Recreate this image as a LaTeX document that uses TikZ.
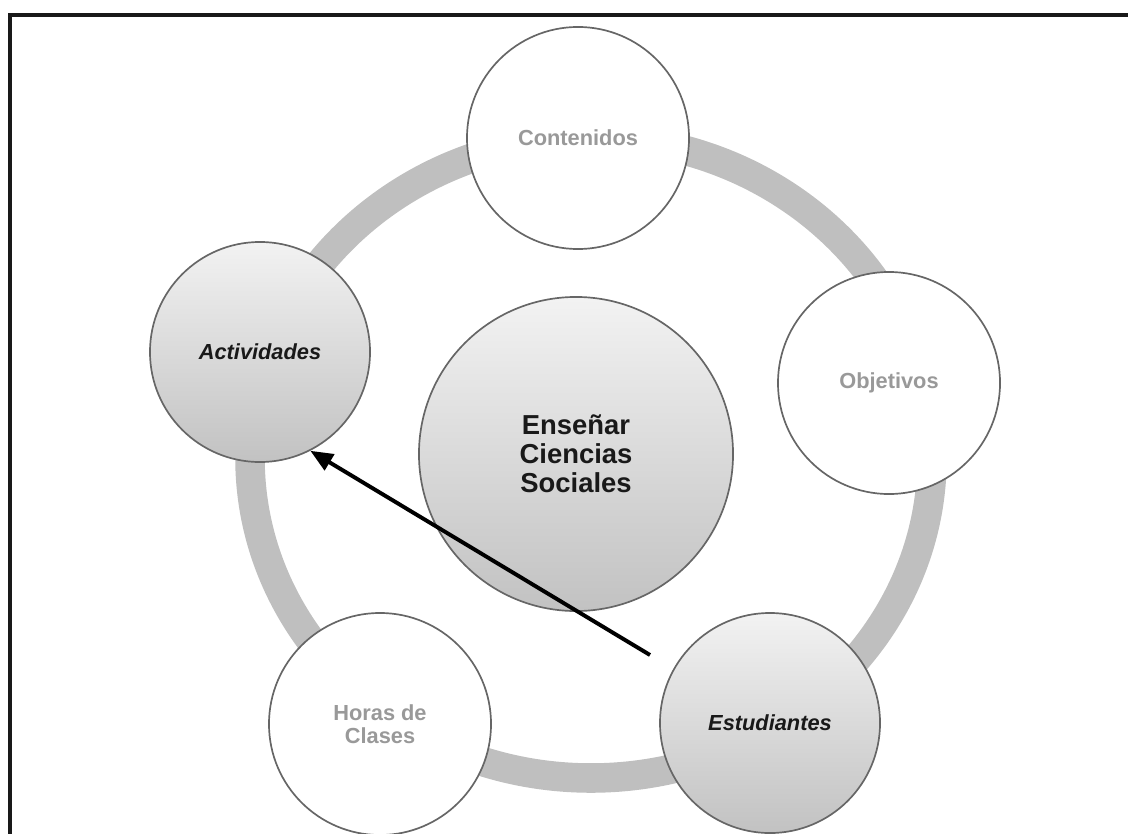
\documentclass[tikz,border=0pt]{standalone}
\usepackage{fontspec}
\setmainfont{Liberation Sans}
\usetikzlibrary{arrows.meta}

\begin{document}
\begin{tikzpicture}[x=0.025cm, y=-0.025cm]
        \useasboundingbox (0,0) rectangle (1128,833);

        % Frame around the figure.
        \draw [line width=2.6pt, black!90] (10,15) rectangle (1160,870);

        % Grey ring behind the circles.
        \draw [line width=21pt, black!25] (591,458) ellipse [x radius=341, y radius=320];

        \begin{scope}[%
            every node/.style = {%
                circle,
                draw = black!60,
                line width = 1.2pt,
                align = center,
                font = \fontsize{15.5}{16.6}\selectfont\bfseries
            },
            topic/.style = {%
                minimum size = 5.55cm,
                fill = white,
                text = black!40
            },
            focus/.style = {%
                minimum size = 5.5cm,
                top color = black!5,
                bottom color = black!24,
                text = black!90,
                font = \fontsize{15.5}{16.6}\selectfont\bfseries\itshape
            }
        ]

            % Nodes on the ring.
            \node [topic] (cont) at (578,138) {Contenidos};
            \node [topic] (obj)  at (889,383) {Objetivos};
            \node [focus] (est)  at (770,723) {Estudiantes};
            \node [topic] (hor)  at (380,724) {Horas de\\Clases};
            \node [focus] (act)  at (260,352) {Actividades};

            % Node in the middle.
            \node [focus, minimum size = 7.85cm,
                   font = \fontsize{19.5}{20.6}\selectfont\bfseries] (ecs) at (576,454)
                {Enseñar\\Ciencias\\Sociales};
        \end{scope}

        \begin{scope}[%
            > = {Triangle[length = 16pt, width = 13pt]}
        ]

            % Arrow towards the activities.
            \coordinate (tail) at (650,655);
            \draw [->, line width = 2.8pt] (tail) -- (act.-63);
        \end{scope}
    \end{tikzpicture}
\end{document}
